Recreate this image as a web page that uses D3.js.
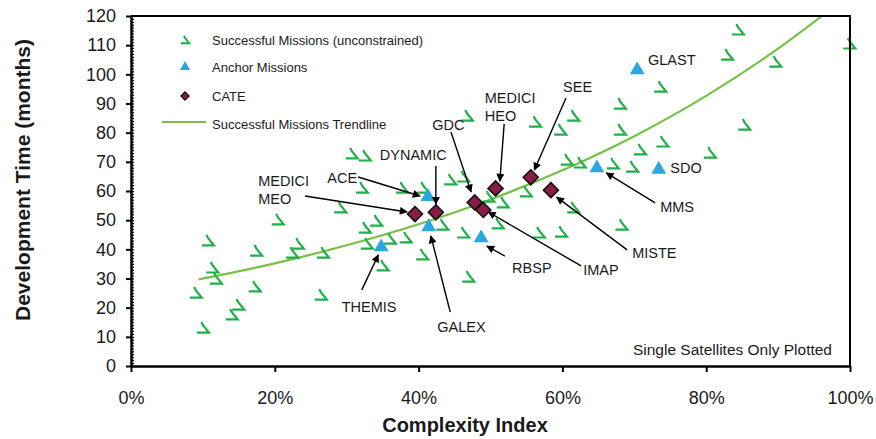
<!DOCTYPE html>
<html lang="en">
<head>
<meta charset="utf-8">
<title>Development time vs complexity</title>
<script src="https://cdn.jsdelivr.net/npm/d3@7"></script>
<style>
  body { margin: 0; background: #fff; }
  text { font-family: "Liberation Sans", Arial, sans-serif; fill: #1a1a1a; }
</style>
</head>
<body>
<script>
// ---- data ----
var successX = [30.7, 32.5, 32.1, 29.1, 20.4, 32.5, 34.1, 10.7, 23.2, 22.4, 17.4, 26.7, 32.8, 36.0, 11.3,
                11.8, 9.0, 17.2, 26.4, 14.9, 14.0, 10.0, 35.0, 38.2, 40.5, 46.2, 51.0, 51.7, 54.9, 56.7,
                59.8, 46.9, 46.7, 56.2, 61.5, 59.7, 60.6, 62.4, 68.0, 68.0, 73.6, 84.4, 82.9, 89.6, 99.9,
                85.3, 73.9, 80.5, 70.8, 67.0, 69.7, 61.5, 68.2, 37.7, 40.6, 44.4, 46.2, 49.7, 43.3]
var successY = [72.7, 72.0, 61.0, 54.2, 50.1, 47.3, 49.7, 42.9, 41.8, 38.7, 39.4, 38.7, 41.8, 43.5, 33.6,
                29.8, 25.0, 27.1, 24.3, 20.9, 17.5, 13.0, 34.3, 43.9, 38.1, 45.6, 48.7, 55.9, 59.7, 45.6,
                45.9, 30.5, 85.7, 83.6, 85.7, 80.9, 70.6, 69.6, 80.9, 89.8, 95.6, 115.2, 106.6, 104.2, 110.4,
                82.6, 76.8, 73.0, 74.1, 69.3, 68.2, 54.2, 48.3, 61.0, 61.0, 63.8, 64.8, 57.9, 48.3]

var anchorNames = ["GLAST", "SDO", "MMS", "ACE", "GALEX", "RBSP", "THEMIS"]
var anchorX = [70.4, 73.4, 64.8, 41.3, 41.4, 48.7, 34.8]
var anchorY = [101.5, 67.4, 67.9, 58.0, 47.7, 43.9, 40.8]

var cateNames = ["MEDICI MEO", "DYNAMIC", "GDC", "IMAP", "MEDICI HEO", "SEE", "MISTE"]
var cateX = [39.5, 42.4, 47.8, 49.0, 50.7, 55.6, 58.4]
var cateY = [52.1, 52.7, 56.1, 53.5, 60.9, 64.7, 60.3]

var trendX = [9.4, 20, 30, 40, 50, 60, 70, 80, 90, 96.2]
var trendY = [29.7, 35.2, 41.4, 48.6, 57.1, 67.1, 78.8, 92.6, 108.8, 120.2]

var xTicks = [0, 20, 40, 60, 80, 100]
var yTicks = [0, 10, 20, 30, 40, 50, 60, 70, 80, 90, 100, 110, 120]

var legendLabels = ["Successful Missions (unconstrained)", "Anchor Missions", "CATE", "Successful Missions Trendline"]

// label placement (data units): text lines, text anchor point, arrow from -> to
var notes = [
  {lines: ["GLAST"], tx: 71.9, ty: 103.2},
  {lines: ["SDO"], tx: 75.0, ty: 66.2},
  {lines: ["MMS"], tx: 73.6, ty: 52.8, a: [72.9, 55.9, 66.1, 66.2]},
  {lines: ["MISTE"], tx: 69.7, ty: 37.0, a: [69.0, 39.8, 59.2, 57.9]},
  {lines: ["IMAP"], tx: 62.9, ty: 31.2, a: [62.6, 34.3, 49.7, 52.8]},
  {lines: ["RBSP"], tx: 53.0, ty: 31.9, a: [52.0, 37.7, 49.5, 41.1]},
  {lines: ["GALEX"], tx: 42.6, ty: 11.7, a: [44.4, 18.5, 41.7, 44.6]},
  {lines: ["THEMIS"], tx: 29.3, ty: 18.5, a: [32.1, 26.1, 34.4, 38.1]},
  {lines: ["MEDICI", "MEO"], tx: 17.7, ty: 61.7, a: [24.2, 58.3, 38.4, 52.8]},
  {lines: ["ACE"], tx: 27.3, ty: 62.7, a: [31.6, 64.8, 40.2, 58.3]},
  {lines: ["DYNAMIC"], tx: 34.6, ty: 70.6, a: [42.4, 68.6, 42.4, 55.5]},
  {lines: ["GDC"], tx: 41.9, ty: 80.9, a: [44.5, 80.2, 47.3, 59.7]},
  {lines: ["MEDICI", "HEO"], tx: 49.2, ty: 90.2, a: [51.9, 83.0, 51.3, 63.4]},
  {lines: ["SEE"], tx: 60.1, ty: 93.9, a: [60.5, 91.9, 56.1, 67.2]}
]

// ---- layout ----
var W = 876, H = 439
var margin = {left: 131, top: 16, right: 26, bottom: 73}
var width = W - margin.left - margin.right
var height = H - margin.top - margin.bottom

var green = "#1fb04a", trendGreen = "#76c043", blue = "#2aa7e0", maroon = "#8a1d47"

var svg = d3.select("body").append("svg").attr("width", W).attr("height", H)
var g = svg.append("g").attr("transform", "translate(" + margin.left + "," + margin.top + ")")

var x = d3.scaleLinear().domain([0, 100]).range([0, width])
var y = d3.scaleLinear().domain([0, 120]).range([height, 0])

svg.append("defs").append("marker")
  .attr("id", "arrow").attr("viewBox", "0 0 10 10").attr("refX", 9).attr("refY", 5)
  .attr("markerWidth", 9).attr("markerHeight", 8).attr("markerUnits", "userSpaceOnUse")
  .attr("orient", "auto")
  .append("path").attr("d", "M0,0 L10,5 L0,10 Z").attr("fill", "#000")

svg.append("clipPath").attr("id", "plotclip")
  .append("rect").attr("width", width).attr("height", height)

// the odd tick-like mark used for the successful missions
var checkPath = "M-1.5,-6 L0,-3 L6,4.5 L-6,4.5"
var diamond = function(r) { return "M0," + (-r) + " L" + r + ",0 L0," + r + " L" + (-r) + ",0 Z" }

// trendline
g.append("path")
  .datum(d3.range(trendX.length))
  .attr("clip-path", "url(#plotclip)")
  .attr("fill", "none").attr("stroke", trendGreen).attr("stroke-width", 2.2)
  .attr("d", d3.line().curve(d3.curveMonotoneX)
    .x(function(i) { return x(trendX[i]) }).y(function(i) { return y(trendY[i]) }))

// successful missions
g.selectAll(".succ").data(d3.range(successX.length)).enter().append("path")
  .attr("class", "succ")
  .attr("transform", function(i) { return "translate(" + x(successX[i]) + "," + y(successY[i]) + ")" })
  .attr("d", checkPath)
  .attr("fill", "none").attr("stroke", green).attr("stroke-width", 2.2)

// anchor missions
g.selectAll(".anchor").data(d3.range(anchorX.length)).enter().append("path")
  .attr("class", "anchor")
  .attr("transform", function(i) { return "translate(" + x(anchorX[i]) + "," + y(anchorY[i]) + ")" })
  .attr("d", d3.symbol(d3.symbolTriangle, 95))
  .attr("fill", blue)

// CATE
g.selectAll(".cate").data(d3.range(cateX.length)).enter().append("path")
  .attr("class", "cate")
  .attr("transform", function(i) { return "translate(" + x(cateX[i]) + "," + y(cateY[i]) + ")" })
  .attr("d", diamond(7.5))
  .attr("fill", maroon).attr("stroke", "#111").attr("stroke-width", 1.6)

// annotations
notes.forEach(function(n) {
  if (n.a) {
    g.append("line")
      .attr("x1", x(n.a[0])).attr("y1", y(n.a[1]))
      .attr("x2", x(n.a[2])).attr("y2", y(n.a[3]))
      .attr("stroke", "#000").attr("stroke-width", 1.4)
      .attr("marker-end", "url(#arrow)")
  }
  var t = g.append("text").attr("x", x(n.tx)).attr("y", y(n.ty)).style("font-size", "14.5px")
  n.lines.forEach(function(l, k) {
    t.append("tspan").attr("x", x(n.tx)).attr("dy", k ? 18 : 0).text(l)
  })
})

g.append("text").attr("x", width - 18).attr("y", height - 11)
  .attr("text-anchor", "end").style("font-size", "15.5px")
  .text("Single Satellites Only Plotted")

// frame (top and right)
g.append("path").attr("d", "M0,0 H" + width + " V" + height)
  .attr("fill", "none").attr("stroke", "#000").attr("stroke-width", 2)

// axes
var yMinor = g.append("g").call(d3.axisRight(y).ticks(120).tickSize(3).tickFormat(""))
yMinor.select(".domain").remove()
yMinor.selectAll("line").attr("stroke-width", 1.2)

var yAxis = g.append("g").call(d3.axisLeft(y).tickValues(yTicks).tickSize(5).tickPadding(10).tickSizeOuter(0))
yAxis.selectAll("text").style("font-size", "18px").attr("fill", "#1a1a1a")
yAxis.select(".domain").attr("stroke-width", 2.5)
yAxis.selectAll(".tick line").attr("stroke-width", 2)

var xAxis = g.append("g").attr("transform", "translate(0," + height + ")")
  .call(d3.axisBottom(x).tickValues(xTicks).tickSize(6).tickPadding(19).tickSizeOuter(0)
    .tickFormat(function(d) { return d + "%" }))
xAxis.selectAll("text").style("font-size", "18px").attr("fill", "#1a1a1a")
xAxis.select(".domain").attr("stroke-width", 2.5)
xAxis.selectAll(".tick line").attr("stroke-width", 2)

// axis titles
svg.append("text").attr("x", 465).attr("y", 432).attr("text-anchor", "middle")
  .style("font-size", "20px").style("font-weight", "bold").text("Complexity Index")
svg.append("text").attr("transform", "translate(30,180) rotate(-90)").attr("text-anchor", "middle")
  .style("font-size", "21px").style("font-weight", "bold").text("Development Time (months)")

// legend
var leg = svg.append("g").attr("transform", "translate(185,0)")
var legY = [40, 67, 96, 124]
leg.append("path").attr("transform", "translate(0," + legY[0] + ") scale(0.7)")
  .attr("d", checkPath).attr("fill", "none").attr("stroke", green).attr("stroke-width", 2.8)
leg.append("path").attr("transform", "translate(0," + legY[1] + ")")
  .attr("d", d3.symbol(d3.symbolTriangle, 45)).attr("fill", blue)
leg.append("path").attr("transform", "translate(0," + legY[2] + ")")
  .attr("d", diamond(4)).attr("fill", maroon).attr("stroke", "#111").attr("stroke-width", 1.4)
leg.append("line").attr("x1", -23).attr("x2", 21).attr("y1", legY[3] - 2).attr("y2", legY[3] - 2)
  .attr("stroke", trendGreen).attr("stroke-width", 2.2)
leg.selectAll(".lt").data(legendLabels).enter().append("text")
  .attr("x", 27).attr("y", function(d, i) { return legY[i] + 4.5 })
  .style("font-size", "13px").text(function(d) { return d })
</script>
</body>
</html>
